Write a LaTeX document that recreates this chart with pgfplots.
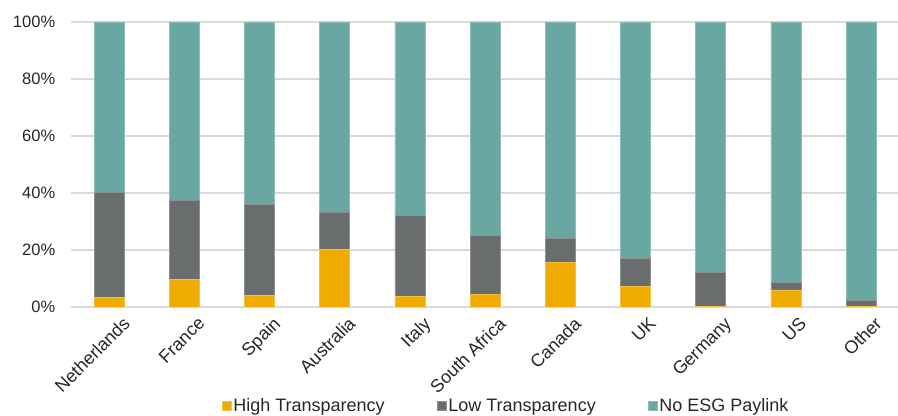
\documentclass[border=0pt]{standalone}
\usepackage{pgfplots}
\pgfplotsset{compat=1.18}
\usepackage{fontspec}
\setmainfont{Liberation Sans}
\usetikzlibrary{calc}

\definecolor{highT}{HTML}{F0AB00}
\definecolor{lowT}{HTML}{6A6D6D}
\definecolor{noESG}{HTML}{69A8A2}
\definecolor{gridgray}{HTML}{D9D9D9}
\definecolor{txt}{HTML}{262626}

% Share of companies by pay-link type (%)
\pgfplotstableread{
x  high  low   none
0  3.3   36.8  59.9
1  9.8   27.5  62.7
2  4.2   31.7  64.1
3  20.2  13.2  66.6
4  3.6   28.4  68.0
5  4.5   20.5  75.0
6  15.6  8.4   76.0
7  7.1   9.9   83.0
8  0.3   11.9  87.8
9  6.0   2.7   91.3
10 0.4   1.8   97.8
}\datatable

\begin{document}
\begin{tikzpicture}[font=\fontsize{16.5}{19}\selectfont, text=txt]
\begin{axis}[
  name=ax,
  scale only axis,
  width=827.2pt, height=285pt,
  ybar stacked,
  bar width=30pt,
  xmin=-0.5, xmax=10.5,
  ymin=0, ymax=100,
  xtick=data,
  xticklabels={Netherlands,France,Spain,Australia,Italy,South Africa,Canada,UK,Germany,US,Other},
  xticklabel style={rotate=45, anchor=north east, inner sep=0pt, yshift=-15pt, xshift=3pt,
    font=\fontsize{18}{21}\selectfont},
  ytick={0,20,...,100},
  yticklabel={\pgfmathprintnumber{\tick}\%},
  /pgf/number format/assume math mode=true,
  yticklabel style={anchor=east, inner sep=0pt, xshift=-16pt},
  major tick length=0pt,
  axis line style={draw=none},
  ymajorgrids,
  grid style={draw=gridgray, line width=1.5pt},
  legend style={
    at={(0.5255,-0.347)}, anchor=center,
    draw=none, fill=none,
    legend columns=3,
    /tikz/every even column/.append style={column sep=50pt},
    font=\fontsize{18}{21}\selectfont,
  },
  legend image code/.code={
    \fill[#1] (-3pt,-4.5pt) rectangle (6pt,4.5pt);
  },
]
\addplot[fill=highT, draw=highT!75!white, line width=0.6pt] table[x=x, y=high] {\datatable};
\addlegendentry{High Transparency}
\addplot[fill=lowT, draw=lowT!75!white, line width=0.6pt] table[x=x, y=low] {\datatable};
\addlegendentry{Low Transparency}
\addplot[fill=noESG, draw=noESG!75!white, line width=0.6pt] table[x=x, y=none] {\datatable};
\addlegendentry{No ESG Paylink}
\end{axis}
\pgfresetboundingbox
\path[use as bounding box] ($(ax.south west)+(-71.4pt,-109pt)$) rectangle ($(ax.north east)+(-0.6pt,22pt)$);
\end{tikzpicture}
\end{document}
